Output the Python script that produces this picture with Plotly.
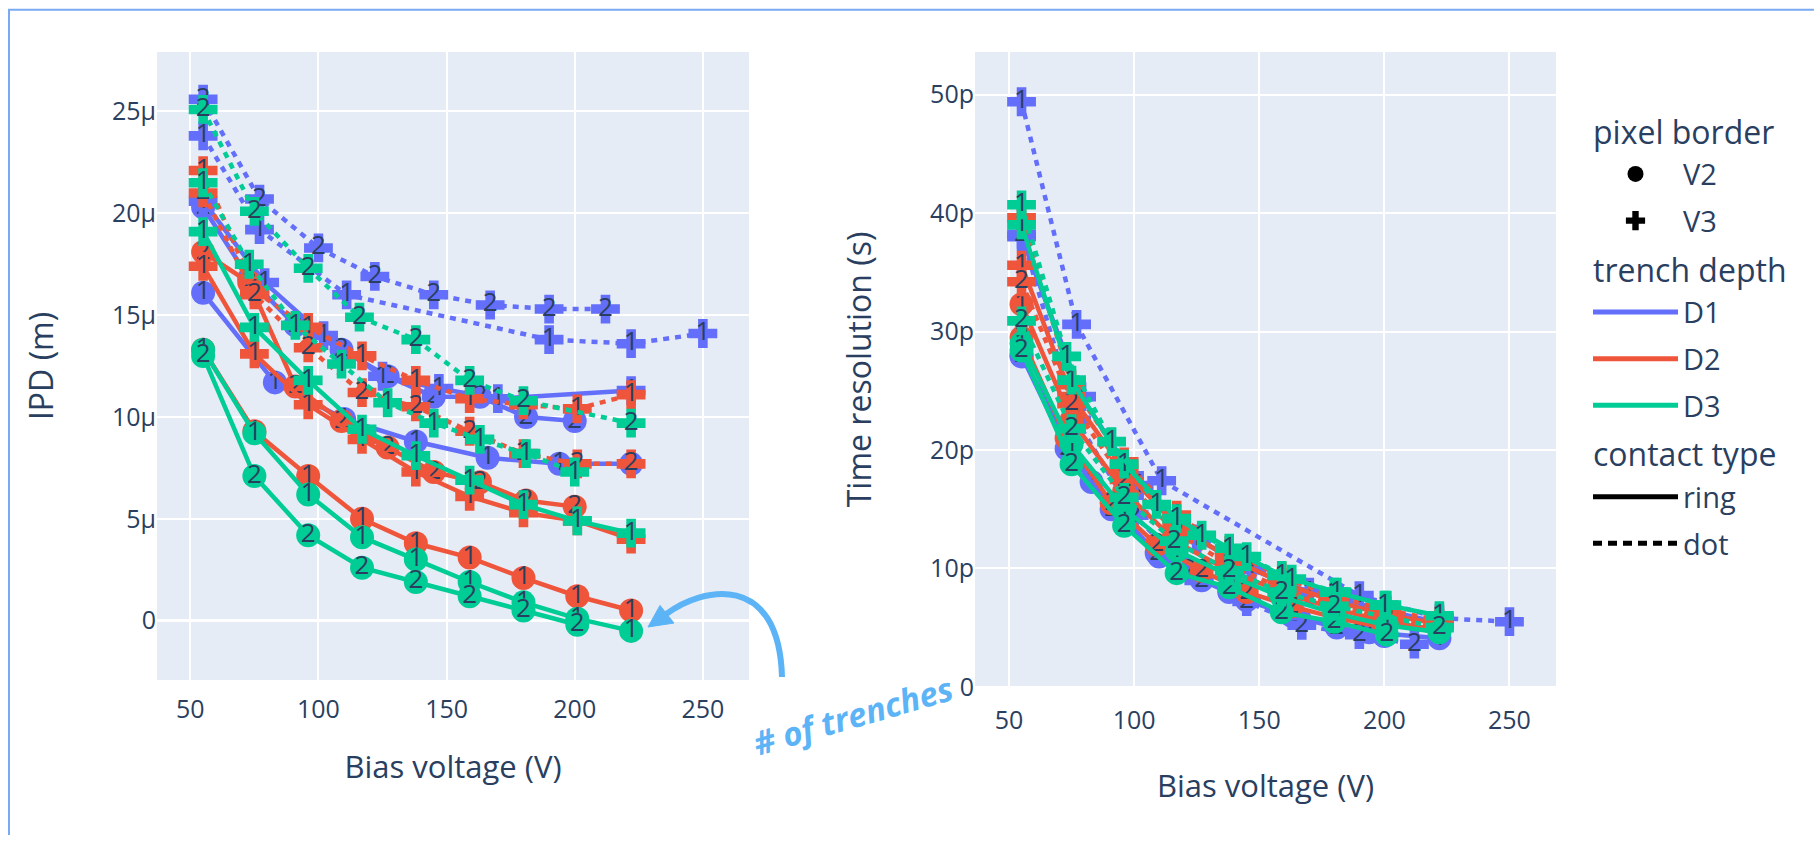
import plotly.graph_objects as go

W, H = 1814, 851

# ---------------- data ----------------
# bias voltages (V), IPD (micrometre), time resolution (picosecond)
v_a = [55, 75, 96, 117, 138, 159, 180, 201, 222]
v_b = [55, 73, 91, 109, 127, 145, 163, 181, 200]

v3_d1_dot_2_v = [55, 77, 100, 122, 145, 167, 190, 212]
v3_d1_dot_2_ipd = [25.6, 20.7, 18.3, 16.9, 16.0, 15.5, 15.3, 15.3]
v3_d1_dot_2_t = [38.2, 22.5, 14.5, 9.8, 7.2, 5.2, 4.4, 3.6]

v3_d1_dot_1_v = [55, 77, 111, 190, 222, 250]
v3_d1_dot_1_ipd = [23.8, 19.2, 16.0, 13.8, 13.6, 14.1]
v3_d1_dot_1_t = [49.4, 30.6, 17.4, 7.7, 5.8, 5.5]

v3_d3_dot_2_v = [55, 75, 96, 116, 138, 159, 180, 222]
v3_d3_dot_2_ipd = [25.1, 20.1, 17.3, 14.9, 13.8, 11.8, 10.8, 9.7]
v3_d3_dot_2_t = [30.9, 21.8, 16.0, 12.3, 9.8, 8.0, 6.8, 5.0]

v3_d3_dot_1_ipd = [21.5, 17.5, 14.5, 12.6, 10.7, 9.7, 8.9, 8.2, 7.3]
v3_d3_dot_1_t = [40.7, 27.9, 20.7, 15.4, 12.8, 11.0, 9.1, 8.0, 6.9]

v3_d2_dot_1_ipd = [22.1, 16.2, 14.4, 13.0, 11.8, 10.9, 10.6, 10.4, 11.1]
v3_d2_dot_1_t = [39.6, 25.5, 19.0, 14.5, 11.5, 9.3, 7.6, 6.5, 5.6]

v3_d2_dot_2_ipd = [21.0, 16.0, 13.4, 11.2, 10.5, 9.3, 8.2, 7.7, 7.7]
v3_d2_dot_2_t = [34.2, 23.9, 17.5, 13.0, 10.3, 8.3, 6.9, 5.8, 5.1]

v3_d2_ring_1_ipd = [17.4, 13.1, 10.6, 8.9, 7.3, 6.1, 5.3, 4.9, 4.0]
v3_d2_ring_1_t = [35.6, 24.5, 18.3, 13.6, 10.9, 8.8, 7.2, 6.1, 5.3]

v3_d3_ring_1_ipd = [19.1, 14.4, 11.8, 9.4, 8.1, 6.9, 5.7, 4.9, 4.3]
v3_d3_ring_1_t = [39.0, 25.9, 18.8, 14.2, 11.7, 9.4, 8.0, 6.9, 6.0]

v2_d2_ring_1_ipd = [13.3, 9.3, 7.1, 5.0, 3.8, 3.1, 2.1, 1.2, 0.5]
v2_d2_ring_1_t = [32.3, 22.5, 16.5, 12.2, 9.8, 8.0, 6.6, 5.5, 4.8]

v2_d3_ring_1_ipd = [13.3, 9.2, 6.2, 4.1, 3.0, 1.9, 0.9, 0.1, -0.5]
v2_d3_ring_1_t = [29.0, 20.5, 15.0, 11.5, 9.4, 7.6, 6.2, 5.2, 4.6]

v2_d3_ring_2_v = [55, 75, 96, 117, 138, 159, 180, 201]
v2_d3_ring_2_ipd = [13.0, 7.1, 4.2, 2.6, 1.9, 1.2, 0.5, -0.2]
v2_d3_ring_2_t = [28.4, 18.8, 13.6, 9.6, 8.4, 6.3, 5.5, 4.4]

v2_d2_ring_2_ipd = [18.1, 16.6, 11.5, 9.8, 8.5, 7.3, 6.8, 5.9, 5.6]
v2_d2_ring_2_t = [29.5, 21.0, 15.5, 12.0, 9.8, 8.0, 6.8, 5.8, 5.0]

v2_d1_ring_1_v = [55, 83, 110, 138, 166, 194, 222]
v2_d1_ring_1_ipd = [16.1, 11.7, 9.9, 8.8, 8.0, 7.7, 7.7]
v2_d1_ring_1_t = [27.9, 17.3, 11.0, 8.0, 5.8, 4.6, 4.1]

v2_d1_ring_2_ipd = [20.3, 16.8, 14.5, 13.3, 12.0, 11.0, 11.0, 10.0, 9.8]
v2_d1_ring_2_t = [28.0, 20.1, 15.0, 11.3, 9.0, 7.3, 6.0, 5.0, 4.3]

v3_d1_ring_1_v = [55, 79, 102, 125, 147, 170, 222]
v3_d1_ring_1_ipd = [20.6, 16.6, 14.0, 12.0, 11.4, 10.9, 11.3]
v3_d1_ring_1_t = [38.0, 24.5, 17.0, 12.5, 9.9, 8.0, 5.4]

# (pixel border, trench depth, contact type, # trenches, V, IPD, time res)
series = [
    ("V2", "D1", "ring", 1, v2_d1_ring_1_v, v2_d1_ring_1_ipd, v2_d1_ring_1_t),
    ("V2", "D1", "ring", 2, v_b, v2_d1_ring_2_ipd, v2_d1_ring_2_t),
    ("V3", "D1", "ring", 1, v3_d1_ring_1_v, v3_d1_ring_1_ipd, v3_d1_ring_1_t),
    ("V3", "D1", "dot", 2, v3_d1_dot_2_v, v3_d1_dot_2_ipd, v3_d1_dot_2_t),
    ("V3", "D1", "dot", 1, v3_d1_dot_1_v, v3_d1_dot_1_ipd, v3_d1_dot_1_t),
    ("V2", "D2", "ring", 1, v_a, v2_d2_ring_1_ipd, v2_d2_ring_1_t),
    ("V2", "D2", "ring", 2, v_b, v2_d2_ring_2_ipd, v2_d2_ring_2_t),
    ("V3", "D2", "ring", 1, v_a, v3_d2_ring_1_ipd, v3_d2_ring_1_t),
    ("V3", "D2", "dot", 1, v_a, v3_d2_dot_1_ipd, v3_d2_dot_1_t),
    ("V3", "D2", "dot", 2, v_a, v3_d2_dot_2_ipd, v3_d2_dot_2_t),
    ("V2", "D3", "ring", 1, v_a, v2_d3_ring_1_ipd, v2_d3_ring_1_t),
    ("V2", "D3", "ring", 2, v2_d3_ring_2_v, v2_d3_ring_2_ipd, v2_d3_ring_2_t),
    ("V3", "D3", "ring", 1, v_a, v3_d3_ring_1_ipd, v3_d3_ring_1_t),
    ("V3", "D3", "dot", 1, v_b, v3_d3_dot_1_ipd, v3_d3_dot_1_t),
    ("V3", "D3", "dot", 2, v3_d3_dot_2_v, v3_d3_dot_2_ipd, v3_d3_dot_2_t),
]

depth_colors = {"D1": "#636efa", "D2": "#EF553B", "D3": "#00cc96"}
border_symbols = {"V2": "circle", "V3": "cross"}
contact_dash = {"ring": "solid", "dot": "6px,6px"}

fig = go.Figure()

for border, depth, contact, n, v, ipd, tres in series:
    for xa, ya, vals, scale in (("x", "y", ipd, 1e-6), ("x2", "y2", tres, 1e-12)):
        fig.add_trace(go.Scatter(
            x=v, y=[val * scale for val in vals],
            xaxis=xa, yaxis=ya,
            mode="lines+markers+text",
            text=[str(n)] * len(v),
            textposition="middle center",
            textfont=dict(size=26, color="#2a3f5f"),
            line=dict(color=depth_colors[depth], width=4.5, dash=contact_dash[contact]),
            marker=dict(symbol=border_symbols[border], size=24, color=depth_colors[depth]),
            showlegend=False,
        ))

# ---------------- legend entries ----------------
legend_items = [
    ("pixel border", "V2", dict(mode="markers", marker=dict(symbol="circle", size=24, color="black"))),
    (None, "V3", dict(mode="markers", marker=dict(symbol="cross", size=24, color="black"))),
    ("trench depth", "D1", dict(mode="lines", line=dict(color=depth_colors["D1"], width=5))),
    (None, "D2", dict(mode="lines", line=dict(color=depth_colors["D2"], width=5))),
    (None, "D3", dict(mode="lines", line=dict(color=depth_colors["D3"], width=5))),
    ("contact type", "ring", dict(mode="lines", line=dict(color="black", width=5, dash="solid"))),
    (None, "dot", dict(mode="lines", line=dict(color="black", width=5, dash="9px,6px"))),
]
for i, (gtitle, name, style) in enumerate(legend_items):
    kw = dict(x=[None], y=[None], xaxis="x2", yaxis="y2", name=name,
              legendgroup="g%d" % i, showlegend=True, **style)
    if gtitle:
        kw["legendgrouptitle"] = dict(text=gtitle, font=dict(size=32, color="#2a3f5f"))
    fig.add_trace(go.Scatter(**kw))


def px(x, y):
    return "%.5f,%.5f" % (x / W, 1 - y / H)


arrow_color = "#5cb4f7"
shapes = [
    dict(type="path", xref="paper", yref="paper",
         path="M " + px(9, 851) + " L " + px(9, 10) + " L " + px(1814, 10),
         line=dict(color="#7aaaf2", width=2)),
    dict(type="path", xref="paper", yref="paper",
         path="M " + px(782, 690) + " C " + px(779, 582) + " " + px(702, 598) + " " + px(666, 626),
         line=dict(color=arrow_color, width=6)),
    dict(type="path", xref="paper", yref="paper",
         path="M " + px(648, 639) + " L " + px(660, 617) + " L " + px(674, 635) + " Z",
         fillcolor=arrow_color, line=dict(color=arrow_color, width=1)),
]

axis_common = dict(gridwidth=2, tickfont=dict(size=25))

fig.update_layout(
    width=W, height=H,
    margin=dict(l=0, r=0, t=0, b=0),
    template="plotly",
    font=dict(family='"Open Sans", verdana, arial, sans-serif', size=24, color="#2a3f5f"),
    paper_bgcolor="white",
    xaxis=dict(domain=[157 / W, 749 / W], range=[37.0, 268.0], anchor="y",
               ticks="outside", ticklen=7, tickcolor="rgba(0,0,0,0)",
               title=dict(text="Bias voltage (V)", font=dict(size=31), standoff=32), **axis_common),
    yaxis=dict(domain=[1 - 693 / H, 1 - 53 / H], range=[-2.91e-6, 27.92e-6], anchor="x",
               dtick=5e-6, zerolinewidth=3,
               title=dict(text="IPD (m)", font=dict(size=32), standoff=48), **axis_common),
    xaxis2=dict(domain=[975 / W, 1556 / W], range=[36.4, 268.6], anchor="y2",
                ticks="outside", ticklen=11, tickcolor="rgba(0,0,0,0)",
                title=dict(text="Bias voltage (V)", font=dict(size=31), standoff=40), **axis_common),
    yaxis2=dict(domain=[1 - 700 / H, 1 - 53 / H], range=[0, 53.6e-12], anchor="x2",
                dtick=10e-12,
                title=dict(text="Time resolution (s)", font=dict(size=32), standoff=48), **axis_common),
    legend=dict(x=1588 / W, xanchor="left", y=1 - 106 / H, yanchor="top",
                font=dict(size=29, color="#2a3f5f"), tracegroupgap=6,
                itemwidth=85, bgcolor="rgba(0,0,0,0)"),
    shapes=shapes,
    annotations=[dict(
        xref="paper", yref="paper", x=853 / W, y=1 - 729 / H,
        xanchor="center", yanchor="middle",
        text="<b><i># of trenches</i></b>", showarrow=False, textangle=-16,
        font=dict(size=33, color=arrow_color),
    )],
)

fig.write_html("out.html")
